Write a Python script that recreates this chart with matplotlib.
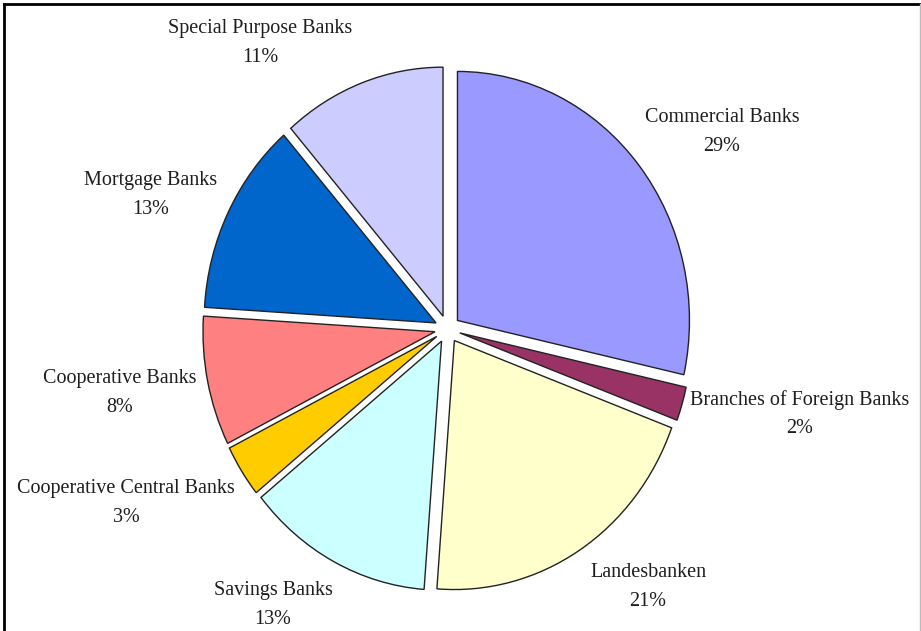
import matplotlib.pyplot as plt
from matplotlib.lines import Line2D
import numpy as np

categories = ["Commercial Banks", "Branches of Foreign Banks", "Landesbanken",
              "Savings Banks", "Cooperative Central Banks", "Cooperative Banks",
              "Mortgage Banks", "Special Purpose Banks"]
shares = [28.5, 2.2, 20.5, 13.0, 3.4, 8.4, 12.6, 11.4]
colors = ["#9999FF", "#993366", "#FFFFCC", "#CCFFFF", "#FFCC00", "#FF8080",
          "#0066CC", "#CCCCFF"]

# label block centres in pixels (x, y from top)
label_px = [(722, 132), (800, 414), (648, 587), (273, 605),
            (126, 503), (120, 393), (151, 195), (260, 43)]

W, H = 921, 631
cx, cy = 447.5, 329    # pie centre, pixels from top-left
rx, ry = 232, 249      # pie radii in pixels (picture is a bit squeezed)

plt.rcParams['font.family'] = ['Liberation Serif', 'DejaVu Serif']

fig = plt.figure(figsize=(W / 100, H / 100), dpi=100)
ax = fig.add_axes([0, 0, 1, 1])

ax.pie(shares, colors=colors, startangle=90, counterclock=False,
       explode=[0.055] * len(shares),
       wedgeprops=dict(edgecolor="#222222", linewidth=1.0))
ax.set_aspect('auto')
ax.set_xlim(-cx / rx, (W - cx) / rx)
ax.set_ylim(-(H - cy) / ry, cy / ry)
ax.axis('off')

for name, val, (px, py) in zip(categories, shares, label_px):
    ax.text((px - cx) / rx, (cy - py) / ry, f"{name}\n{int(val + 0.5)}%",
            ha='center', va='center', fontsize=14.5, color="#1e1e1e",
            linespacing=1.7)

# frame around the picture
fig.add_artist(Line2D([4 / W, 920 / W], [1 - 4 / H, 1 - 4 / H],
                      transform=fig.transFigure, color='black', lw=2))
fig.add_artist(Line2D([4 / W, 4 / W], [0, 1 - 4 / H],
                      transform=fig.transFigure, color='black', lw=2))
fig.add_artist(Line2D([920 / W, 920 / W], [0, 1 - 4 / H],
                      transform=fig.transFigure, color='#bbbbbb', lw=1))

fig.savefig("out.png", dpi=100)
